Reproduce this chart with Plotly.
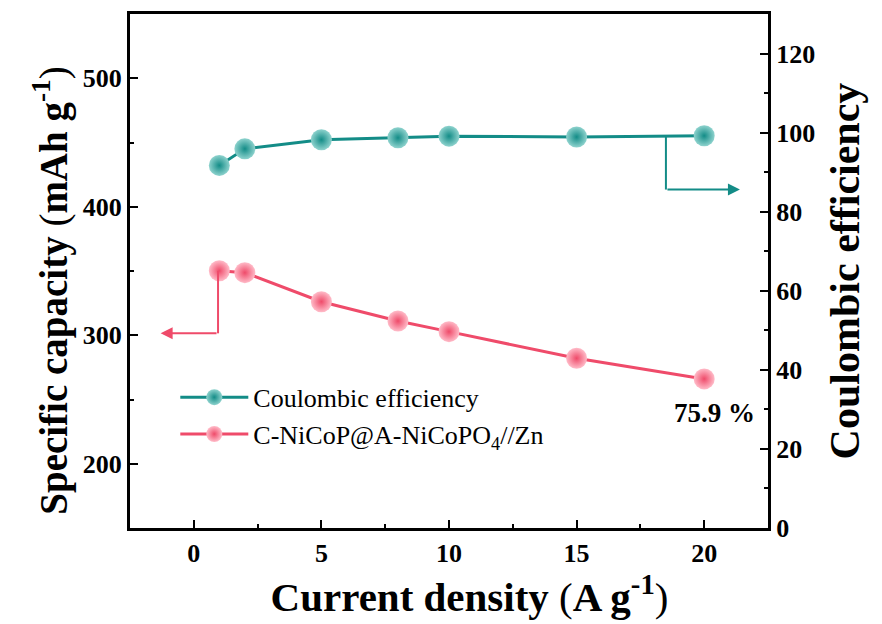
import plotly.graph_objects as go

current_density = [1, 2, 5, 8, 10, 15, 20]
specific_capacity = [350.2, 348.7, 326.1, 311.1, 302.8, 282.1, 266.0]
coulombic_eff = [91.7, 95.9, 98.2, 98.7, 99.1, 98.9, 99.2]
x_ticks = [0, 5, 10, 15, 20]
y_ticks = [200, 300, 400, 500]
y2_ticks = [0, 20, 40, 60, 80, 100, 120]
retention_label = "75.9 %"

TEAL = "#138c87"
TEAL_LIGHT = "#8fd3ce"
PINK = "#ef4b6a"
PINK_LIGHT = "#ffbcc9"
FONT = "Liberation Serif"
PAD = "&nbsp;" * 4

fig = go.Figure()
fig.add_trace(go.Scatter(
    x=current_density, y=coulombic_eff, yaxis="y2", mode="lines+markers",
    name="Coulombic efficiency",
    line=dict(color=TEAL, width=3),
    marker=dict(size=21, color=TEAL_LIGHT, gradient=dict(type="radial", color=TEAL),
                line=dict(width=0)),
))
fig.add_trace(go.Scatter(
    x=current_density, y=specific_capacity, mode="lines+markers",
    name="C-NiCoP@A-NiCoPO<sub>4</sub>//Zn",
    line=dict(color=PINK, width=3),
    marker=dict(size=21, color=PINK_LIGHT, gradient=dict(type="radial", color=PINK),
                line=dict(width=0)),
))

# Arrow guides (L-shaped)
fig.add_shape(type="line", xref="x", yref="y", x0=0.95, x1=0.95, y0=350.2, y1=301.5,
              line=dict(color=PINK, width=2))
fig.add_annotation(xref="x", yref="y", axref="x", ayref="y", x=-1.3, y=301.5,
                   ax=0.95, ay=301.5, showarrow=True, arrowhead=2, arrowsize=1.2,
                   arrowwidth=2, arrowcolor=PINK, text="")
fig.add_shape(type="line", xref="x", yref="y2", x0=18.5, x1=18.5, y0=99.0, y1=85.6,
              line=dict(color=TEAL, width=2))
fig.add_annotation(xref="x", yref="y2", axref="x", ayref="y2", x=21.4, y=85.6,
                   ax=18.5, ay=85.6, showarrow=True, arrowhead=2, arrowsize=1.2,
                   arrowwidth=2, arrowcolor=TEAL, text="")

fig.add_annotation(xref="x", yref="y", x=20.4, y=239.5, text="<b>" + retention_label + "</b>",
                   showarrow=False, font=dict(family=FONT, size=27, color="black"))

axis_common = dict(
    showline=True, linecolor="black", linewidth=3, ticks="inside", ticklen=8,
    tickwidth=2, tickcolor="black", showgrid=False, zeroline=False,
    tickfont=dict(family=FONT, size=26, color="black", weight="bold"),
)

fig.update_layout(
    width=882, height=624,
    margin=dict(l=130, r=114, t=14, b=96),
    paper_bgcolor="white", plot_bgcolor="white",
    showlegend=True,
    legend=dict(x=0.071, y=0.3, xanchor="left", yanchor="top",
                font=dict(family=FONT, size=26, color="black"),
                bgcolor="rgba(0,0,0,0)", itemwidth=68, tracegroupgap=0),
    xaxis=dict(range=[-2.5, 22.5], tickvals=x_ticks, mirror=True,
               minor=dict(dtick=2.5, ticks="inside", ticklen=4, tickwidth=2, tickcolor="black"),
               title=dict(text=PAD + "<b>Current density</b>&nbsp;(<b>A g<sup>-1</sup></b>)",
                          font=dict(family=FONT, size=41, color="black"), standoff=6),
               **axis_common),
    yaxis=dict(range=[150, 550], tickvals=y_ticks,
               minor=dict(dtick=50, ticks="inside", ticklen=4, tickwidth=2, tickcolor="black"),
               title=dict(text="<b>Specific capacity</b>&nbsp;(<b>mAh g<sup>-1</sup></b>)" + PAD,
                          font=dict(family=FONT, size=39, color="black"), standoff=4),
               **axis_common),
    yaxis2=dict(range=[0, 130], tickvals=y2_ticks, overlaying="y", side="right",
                minor=dict(dtick=10, ticks="inside", ticklen=4, tickwidth=2, tickcolor="black"),
                title=dict(text="<b>Coulombic efficiency</b>",
                           font=dict(family=FONT, size=42, color="black"), standoff=16),
                **axis_common),
)

fig.write_html("out.html")
